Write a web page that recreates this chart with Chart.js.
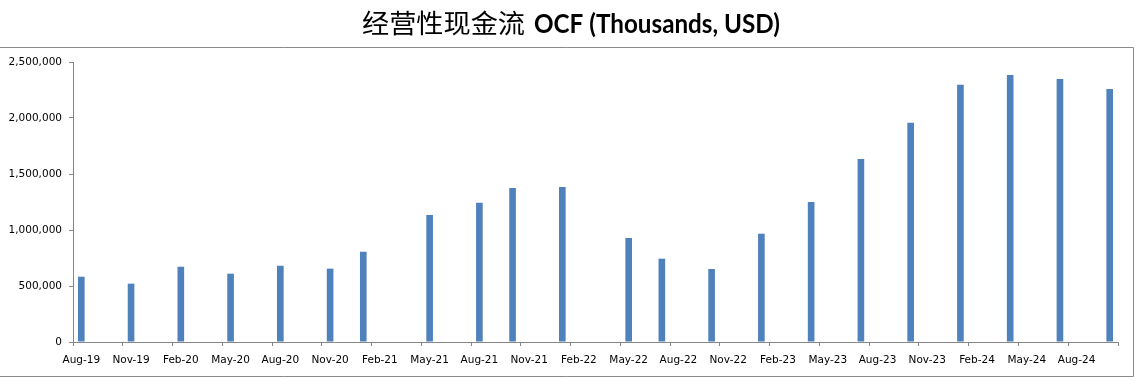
<!DOCTYPE html>
<html>
<head>
<meta charset="utf-8">
<script src="https://cdn.jsdelivr.net/npm/chart.js@4/dist/chart.umd.min.js"></script>
<style>
  html, body { margin: 0; padding: 0; background: #fff; }
  #wrap { width: 1139px; height: 381px; position: relative; }
</style>
</head>
<body>
<div id="wrap"><canvas id="c" width="1139" height="381"></canvas></div>
<script>
const titleCn = '经营性现金流';
const titleEn = 'OCF (Thousands, USD)';

const months = [
  'Aug-19','Sep-19','Oct-19','Nov-19','Dec-19',
  'Jan-20','Feb-20','Mar-20','Apr-20','May-20','Jun-20','Jul-20','Aug-20','Sep-20','Oct-20','Nov-20','Dec-20',
  'Jan-21','Feb-21','Mar-21','Apr-21','May-21','Jun-21','Jul-21','Aug-21','Sep-21','Oct-21','Nov-21','Dec-21',
  'Jan-22','Feb-22','Mar-22','Apr-22','May-22','Jun-22','Jul-22','Aug-22','Sep-22','Oct-22','Nov-22','Dec-22',
  'Jan-23','Feb-23','Mar-23','Apr-23','May-23','Jun-23','Jul-23','Aug-23','Sep-23','Oct-23','Nov-23','Dec-23',
  'Jan-24','Feb-24','Mar-24','Apr-24','May-24','Jun-24','Jul-24','Aug-24','Sep-24','Oct-24'
];

const barMonths = [
  'Aug-19','Nov-19','Feb-20','May-20','Aug-20','Nov-20','Jan-21','May-21','Aug-21','Oct-21','Jan-22',
  'May-22','Jul-22','Oct-22','Jan-23','Apr-23','Jul-23','Oct-23','Jan-24','Apr-24','Jul-24','Oct-24'
];

const ocf = [
  583000, 521000, 672000, 610000, 681000, 655000, 806000, 1134000, 1244000, 1375000, 1384000,
  929000, 744000, 652000, 967000, 1250000, 1634000, 1958000, 2297000, 2384000, 2348000, 2259000
];

const yTicks = [0, 500000, 1000000, 1500000, 2000000, 2500000];

const AXIS_GREY = '#868686';

const framePlugin = {
  id: 'frame',
  beforeDraw(chart) {
    const ctx = chart.ctx;
    ctx.save();
    ctx.fillStyle = '#fff';
    ctx.fillRect(0, 0, chart.width, chart.height);
    ctx.strokeStyle = '#8a8a8a';
    ctx.lineWidth = 1;
    ctx.beginPath();
    ctx.moveTo(0, 47.5);
    ctx.lineTo(1133.5, 47.5);
    ctx.lineTo(1133.5, 376.5);
    ctx.lineTo(0, 376.5);
    ctx.stroke();
    const fCn = '26px "Noto Sans CJK SC"';
    const fEn = 'bold 27px Lato';
    const cnStart = 362, cnTarget = 163, enStart = 534, enTarget = 246;
    ctx.fillStyle = '#000';
    ctx.textBaseline = 'alphabetic';
    ctx.textAlign = 'left';
    ctx.font = fCn;
    const wCn = ctx.measureText(titleCn).width;
    ctx.save();
    ctx.translate(cnStart, 33);
    ctx.scale(Math.min(1.1, cnTarget / wCn), 1);
    ctx.fillText(titleCn, 0, 0);
    ctx.restore();
    ctx.font = fEn;
    const wEn = ctx.measureText(titleEn).width;
    ctx.save();
    ctx.translate(enStart, 33);
    ctx.scale(enTarget / wEn, 1);
    ctx.fillText(titleEn, 0, 0);
    ctx.restore();
    ctx.restore();
  }
};

new Chart(document.getElementById('c'), {
  type: 'bar',
  data: {
    labels: months,
    datasets: [{
      data: barMonths.map((m, i) => ({ x: m, y: ocf[i] })),
      backgroundColor: '#4F81BD',
      borderWidth: 0,
      barPercentage: 0.4,
      categoryPercentage: 1.0
    }]
  },
  options: {
    responsive: false,
    animation: false,
    devicePixelRatio: 1,
    layout: { padding: { top: 62, right: 21, left: 0, bottom: 0 } },
    plugins: {
      legend: { display: false },
      title: { display: false },
      tooltip: { enabled: false }
    },
    scales: {
      x: {
        type: 'category',
        offset: true,
        afterFit(s) { s.height = 39; },
        grid: {
          offset: true,
          drawOnChartArea: false,
          drawTicks: true,
          tickLength: 4,
          color: (c) => (c.index === undefined || c.index % 3 === 0) ? AXIS_GREY : 'rgba(0,0,0,0)'
        },
        border: { display: true, color: AXIS_GREY, width: 1 },
        ticks: {
          autoSkip: false,
          maxRotation: 0,
          minRotation: 0,
          padding: 8,
          color: '#000',
          font: { family: 'DejaVu Sans', size: 10.5 },
          callback: function (v, i) { return i % 3 === 0 ? this.getLabelForValue(v) : ''; }
        }
      },
      y: {
        min: 0,
        max: 2500000,
        afterFit(s) { s.width = 73; },
        afterBuildTicks(s) { s.ticks = yTicks.map(v => ({ value: v })); },
        grid: {
          drawOnChartArea: false,
          drawTicks: true,
          tickLength: 4,
          color: AXIS_GREY
        },
        border: { display: true, color: AXIS_GREY, width: 1 },
        ticks: {
          padding: 7,
          color: '#000',
          font: { family: 'DejaVu Sans', size: 10.5 },
          callback: (v) => Number(v).toLocaleString('en-US')
        }
      }
    }
  },
  plugins: [framePlugin]
});
</script>
</body>
</html>
